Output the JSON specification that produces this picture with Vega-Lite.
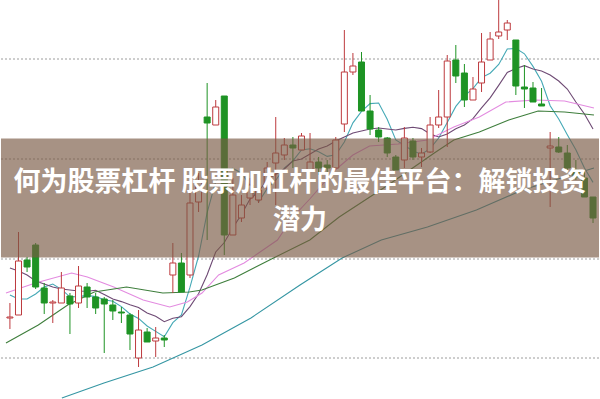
{
"$schema": "https://vega.github.io/schema/vega-lite/v6.json",
"width": 600, "height": 399,
"autosize": {"type": "fit", "contains": "padding"},
"padding": 0,
"background": "white",
"config": {"view": {"stroke": null}},
"datasets": {
"grid": [{"g": 340}, {"g": 240}, {"g": 140}, {"g": 41}],
"k": [
{"i":0,"o":81,"c":82,"h":96,"l":70,"d":"u"},
{"i":1,"o":84,"c":138,"h":167,"l":84,"d":"u"},
{"i":2,"o":139,"c":132,"h":142,"l":127,"d":"d"},
{"i":3,"o":154,"c":112,"h":156,"l":110,"d":"d"},
{"i":4,"o":111,"c":96,"h":116,"l":85,"d":"d"},
{"i":5,"o":96,"c":97,"h":99,"l":76,"d":"u"},
{"i":6,"o":96,"c":111,"h":127,"l":96,"d":"u"},
{"i":7,"o":103,"c":95,"h":106,"l":65,"d":"d"},
{"i":8,"o":96,"c":113,"h":133,"l":91,"d":"u"},
{"i":9,"o":112,"c":102,"h":116,"l":91,"d":"d"},
{"i":10,"o":102,"c":91,"h":106,"l":85,"d":"d"},
{"i":11,"o":100,"c":95,"h":102,"l":46,"d":"d"},
{"i":12,"o":94,"c":88,"h":99,"l":79,"d":"d"},
{"i":13,"o":87,"c":86,"h":92,"l":76,"d":"d"},
{"i":14,"o":84,"c":65,"h":86,"l":49,"d":"d"},
{"i":15,"o":41,"c":69,"h":89,"l":32,"d":"u"},
{"i":16,"o":67,"c":57,"h":71,"l":57,"d":"d"},
{"i":17,"o":58,"c":61,"h":72,"l":42,"d":"u"},
{"i":18,"o":61,"c":59,"h":64,"l":52,"d":"d"},
{"i":19,"o":124,"c":136,"h":156,"l":106,"d":"u"},
{"i":20,"o":136,"c":107,"h":146,"l":107,"d":"d"},
{"i":21,"o":124,"c":196,"h":206,"l":121,"d":"u"},
{"i":22,"o":197,"c":217,"h":226,"l":187,"d":"u"},
{"i":23,"o":282,"c":276,"h":316,"l":159,"d":"d"},
{"i":24,"o":274,"c":292,"h":299,"l":274,"d":"u"},
{"i":25,"o":303,"c":164,"h":303,"l":144,"d":"d"},
{"i":26,"o":164,"c":204,"h":221,"l":164,"d":"u"},
{"i":27,"o":181,"c":194,"h":204,"l":177,"d":"u"},
{"i":28,"o":201,"c":214,"h":221,"l":194,"d":"u"},
{"i":29,"o":199,"c":209,"h":219,"l":196,"d":"u"},
{"i":30,"o":211,"c":231,"h":237,"l":209,"d":"u"},
{"i":31,"o":236,"c":246,"h":282,"l":194,"d":"u"},
{"i":32,"o":244,"c":254,"h":261,"l":239,"d":"u"},
{"i":33,"o":254,"c":251,"h":262,"l":231,"d":"d"},
{"i":34,"o":249,"c":263,"h":266,"l":249,"d":"u"},
{"i":35,"o":229,"c":237,"h":266,"l":227,"d":"u"},
{"i":36,"o":237,"c":231,"h":242,"l":224,"d":"d"},
{"i":37,"o":234,"c":231,"h":239,"l":226,"d":"d"},
{"i":38,"o":231,"c":259,"h":262,"l":231,"d":"u"},
{"i":39,"o":275,"c":327,"h":369,"l":267,"d":"u"},
{"i":40,"o":327,"c":333,"h":346,"l":324,"d":"u"},
{"i":41,"o":337,"c":288,"h":347,"l":288,"d":"d"},
{"i":42,"o":288,"c":270,"h":304,"l":264,"d":"d"},
{"i":43,"o":269,"c":262,"h":272,"l":257,"d":"d"},
{"i":44,"o":261,"c":246,"h":262,"l":242,"d":"d"},
{"i":45,"o":242,"c":229,"h":244,"l":229,"d":"d"},
{"i":46,"o":239,"c":261,"h":272,"l":231,"d":"u"},
{"i":47,"o":258,"c":242,"h":261,"l":239,"d":"d"},
{"i":48,"o":242,"c":246,"h":251,"l":232,"d":"u"},
{"i":49,"o":247,"c":274,"h":282,"l":246,"d":"u"},
{"i":50,"o":274,"c":282,"h":309,"l":271,"d":"u"},
{"i":51,"o":282,"c":338,"h":344,"l":252,"d":"u"},
{"i":52,"o":339,"c":323,"h":354,"l":316,"d":"d"},
{"i":53,"o":326,"c":299,"h":335,"l":292,"d":"d"},
{"i":54,"o":299,"c":310,"h":322,"l":299,"d":"u"},
{"i":55,"o":316,"c":337,"h":366,"l":307,"d":"u"},
{"i":56,"o":339,"c":360,"h":367,"l":339,"d":"u"},
{"i":57,"o":363,"c":367,"h":399,"l":360,"d":"u"},
{"i":58,"o":369,"c":376,"h":379,"l":359,"d":"u"},
{"i":59,"o":359,"c":313,"h":359,"l":304,"d":"d"},
{"i":60,"o":312,"c":310,"h":334,"l":291,"d":"d"},
{"i":61,"o":311,"c":297,"h":317,"l":297,"d":"d"},
{"i":62,"o":295,"c":293,"h":311,"l":293,"d":"d"},
{"i":63,"o":251,"c":253,"h":267,"l":192,"d":"u"},
{"i":64,"o":252,"c":247,"h":262,"l":246,"d":"d"},
{"i":65,"o":246,"c":231,"h":254,"l":229,"d":"d"},
{"i":66,"o":229,"c":222,"h":239,"l":219,"d":"d"},
{"i":67,"o":221,"c":202,"h":227,"l":202,"d":"d"},
{"i":68,"o":202,"c":181,"h":202,"l":176,"d":"d"}
],
"ma": [
{"s":"ma5","i":0,"v":104},{"s":"ma5","i":1,"v":100},{"s":"ma5","i":2,"v":100},{"s":"ma5","i":3,"v":105},{"s":"ma5","i":4,"v":112},{"s":"ma5","i":5,"v":115},{"s":"ma5","i":6,"v":109.6},{"s":"ma5","i":7,"v":102.2},{"s":"ma5","i":8,"v":102.4},{"s":"ma5","i":9,"v":103.6},{"s":"ma5","i":10,"v":102.4},{"s":"ma5","i":11,"v":99.2},{"s":"ma5","i":12,"v":97.8},{"s":"ma5","i":13,"v":92.4},{"s":"ma5","i":14,"v":85},{"s":"ma5","i":15,"v":80.6},{"s":"ma5","i":16,"v":73},{"s":"ma5","i":17,"v":67.6},{"s":"ma5","i":18,"v":62.2},{"s":"ma5","i":19,"v":76.4},{"s":"ma5","i":20,"v":84},{"s":"ma5","i":21,"v":111.8},{"s":"ma5","i":22,"v":143},{"s":"ma5","i":23,"v":186.4},{"s":"ma5","i":24,"v":217.6},{"s":"ma5","i":25,"v":229},{"s":"ma5","i":26,"v":230.6},{"s":"ma5","i":27,"v":226},{"s":"ma5","i":28,"v":213.6},{"s":"ma5","i":29,"v":197},{"s":"ma5","i":30,"v":210.4},{"s":"ma5","i":31,"v":218.8},{"s":"ma5","i":32,"v":230.8},{"s":"ma5","i":33,"v":238.2},{"s":"ma5","i":34,"v":249},{"s":"ma5","i":35,"v":250.2},{"s":"ma5","i":36,"v":247.2},{"s":"ma5","i":37,"v":242.6},{"s":"ma5","i":38,"v":244.2},{"s":"ma5","i":39,"v":257},{"s":"ma5","i":40,"v":276.2},{"s":"ma5","i":41,"v":287.6},{"s":"ma5","i":42,"v":295.4},{"s":"ma5","i":43,"v":296},{"s":"ma5","i":44,"v":279.8},{"s":"ma5","i":45,"v":259},{"s":"ma5","i":46,"v":253.6},{"s":"ma5","i":47,"v":248},{"s":"ma5","i":48,"v":244.8},{"s":"ma5","i":49,"v":250.4},{"s":"ma5","i":50,"v":261},{"s":"ma5","i":51,"v":276.4},{"s":"ma5","i":52,"v":292.6},{"s":"ma5","i":53,"v":303.2},{"s":"ma5","i":54,"v":310.4},{"s":"ma5","i":55,"v":321.4},{"s":"ma5","i":56,"v":325.8},{"s":"ma5","i":57,"v":334.6},{"s":"ma5","i":58,"v":350},{"s":"ma5","i":59,"v":350.6},{"s":"ma5","i":60,"v":345.2},{"s":"ma5","i":61,"v":332.6},{"s":"ma5","i":62,"v":317.8},{"s":"ma5","i":63,"v":293.2},{"s":"ma5","i":64,"v":280},{"s":"ma5","i":65,"v":264.2},{"s":"ma5","i":66,"v":249.2},{"s":"ma5","i":67,"v":231},{"s":"ma5","i":68,"v":216.6},
{"s":"ma10","i":0,"v":131},{"s":"ma10","i":1,"v":128},{"s":"ma10","i":2,"v":124},{"s":"ma10","i":3,"v":118},{"s":"ma10","i":4,"v":115},{"s":"ma10","i":5,"v":112},{"s":"ma10","i":6,"v":110},{"s":"ma10","i":7,"v":109},{"s":"ma10","i":8,"v":108},{"s":"ma10","i":9,"v":107.8},{"s":"ma10","i":10,"v":108.7},{"s":"ma10","i":11,"v":104.4},{"s":"ma10","i":12,"v":100},{"s":"ma10","i":13,"v":97.4},{"s":"ma10","i":14,"v":94.3},{"s":"ma10","i":15,"v":91.5},{"s":"ma10","i":16,"v":86.1},{"s":"ma10","i":17,"v":82.7},{"s":"ma10","i":18,"v":77.3},{"s":"ma10","i":19,"v":80.7},{"s":"ma10","i":20,"v":82.3},{"s":"ma10","i":21,"v":92.4},{"s":"ma10","i":22,"v":105.3},{"s":"ma10","i":23,"v":124.3},{"s":"ma10","i":24,"v":147},{"s":"ma10","i":25,"v":156.5},{"s":"ma10","i":26,"v":171.2},{"s":"ma10","i":27,"v":184.5},{"s":"ma10","i":28,"v":200},{"s":"ma10","i":29,"v":207.3},{"s":"ma10","i":30,"v":219.7},{"s":"ma10","i":31,"v":224.7},{"s":"ma10","i":32,"v":230},{"s":"ma10","i":33,"v":238},{"s":"ma10","i":34,"v":240},{"s":"ma10","i":35,"v":245},{"s":"ma10","i":36,"v":250},{"s":"ma10","i":37,"v":253},{"s":"ma10","i":38,"v":258},{"s":"ma10","i":39,"v":262},{"s":"ma10","i":40,"v":266},{"s":"ma10","i":41,"v":268},{"s":"ma10","i":42,"v":270},{"s":"ma10","i":43,"v":271},{"s":"ma10","i":44,"v":270},{"s":"ma10","i":45,"v":269},{"s":"ma10","i":46,"v":270.6},{"s":"ma10","i":47,"v":271.7},{"s":"ma10","i":48,"v":270.4},{"s":"ma10","i":49,"v":265.1},{"s":"ma10","i":50,"v":262},{"s":"ma10","i":51,"v":265},{"s":"ma10","i":52,"v":270.3},{"s":"ma10","i":53,"v":274},{"s":"ma10","i":54,"v":280.4},{"s":"ma10","i":55,"v":291.2},{"s":"ma10","i":56,"v":301.1},{"s":"ma10","i":57,"v":313.6},{"s":"ma10","i":58,"v":326.6},{"s":"ma10","i":59,"v":330.5},{"s":"ma10","i":60,"v":333.3},{"s":"ma10","i":61,"v":330},{"s":"ma10","i":62,"v":328},{"s":"ma10","i":63,"v":324},{"s":"ma10","i":64,"v":318},{"s":"ma10","i":65,"v":310},{"s":"ma10","i":66,"v":297},{"s":"ma10","i":67,"v":285},{"s":"ma10","i":68,"v":270},
{"s":"ma20","i":-0.46,"v":106},{"s":"ma20","i":2.97,"v":116},{"s":"ma20","i":7.2,"v":126},{"s":"ma20","i":9.03,"v":122},{"s":"ma20","i":12.11,"v":112},{"s":"ma20","i":15.54,"v":99},{"s":"ma20","i":18.63,"v":92},{"s":"ma20","i":20.69,"v":97},{"s":"ma20","i":22.4,"v":106},{"s":"ma20","i":24.34,"v":124},{"s":"ma20","i":27.31,"v":136},{"s":"ma20","i":31.2,"v":159},{"s":"ma20","i":32.91,"v":181},{"s":"ma20","i":34.97,"v":200},{"s":"ma20","i":37.94,"v":229},{"s":"ma20","i":40,"v":244},{"s":"ma20","i":41.94,"v":253},{"s":"ma20","i":45.26,"v":255},{"s":"ma20","i":48.69,"v":259},{"s":"ma20","i":51.77,"v":272},{"s":"ma20","i":54.74,"v":282},{"s":"ma20","i":57.83,"v":297},{"s":"ma20","i":61.26,"v":299},{"s":"ma20","i":64.69,"v":298},{"s":"ma20","i":68.11,"v":291},
{"s":"ma60","i":-0.46,"v":56},{"s":"ma60","i":3.31,"v":74},{"s":"ma60","i":6.74,"v":94},{"s":"ma60","i":9.83,"v":107},{"s":"ma60","i":13.6,"v":112},{"s":"ma60","i":17.83,"v":106},{"s":"ma60","i":20.91,"v":107},{"s":"ma60","i":22.4,"v":109},{"s":"ma60","i":26.17,"v":121},{"s":"ma60","i":30.74,"v":141},{"s":"ma60","i":34.97,"v":159},{"s":"ma60","i":38.4,"v":182},{"s":"ma60","i":44.11,"v":214},{"s":"ma60","i":49.49,"v":246},{"s":"ma60","i":51.77,"v":259},{"s":"ma60","i":54.74,"v":267},{"s":"ma60","i":58.17,"v":279},{"s":"ma60","i":61.6,"v":288},{"s":"ma60","i":64.69,"v":287},{"s":"ma60","i":68.11,"v":284},
{"s":"ma120","i":6.06,"v":1},{"s":"ma120","i":10.97,"v":16},{"s":"ma120","i":16.69,"v":32},{"s":"ma120","i":22.4,"v":54},{"s":"ma120","i":28.11,"v":81},{"s":"ma120","i":33.83,"v":114},{"s":"ma120","i":38.74,"v":141},{"s":"ma120","i":43.31,"v":159},{"s":"ma120","i":48.69,"v":172},{"s":"ma120","i":54.4,"v":189},{"s":"ma120","i":59.77,"v":209},{"s":"ma120","i":63.54,"v":219},{"s":"ma120","i":68.11,"v":231}
],
"band": [{"top": 260.5, "bottom": 141.5}],
"title": [
{"i": 33.83, "v": 216, "t": "何为股票杠杆 股票加杠杆的最佳平台：解锁投资"},
{"i": 33.83, "v": 178, "t": "潜力"}
]
},
"layer": [
{
"data": {"name": "grid"},
"mark": {"type": "rule", "color": "#9c9c9c", "strokeDash": [2, 2], "strokeWidth": 1},
"encoding": {"y": {"field": "g", "type": "quantitative", "scale": {"domain": [0, 399], "nice": false, "zero": false}, "axis": null}}
},
{
"data": {"name": "ma"},
"mark": {"type": "line", "strokeWidth": 1.1, "clip": true},
"encoding": {
"x": {"field": "i", "type": "quantitative", "scale": {"domain": [-0.457, 68.114], "nice": false, "zero": false}, "axis": null},
"y": {"field": "v", "type": "quantitative", "axis": null},
"color": {"field": "s", "type": "nominal", "legend": null, "scale": {"domain": ["ma5", "ma10", "ma20", "ma60", "ma120"], "range": ["#45a9b6", "#6e4a74", "#e38be0", "#3e7e3c", "#3596a3"]}}
}
},
{
"data": {"name": "k"},
"mark": {"type": "rule", "strokeWidth": 1, "clip": true},
"encoding": {
"x": {"field": "i", "type": "quantitative", "axis": null},
"y": {"field": "h", "type": "quantitative", "axis": null},
"y2": {"field": "l"},
"stroke": {"field": "d", "type": "nominal", "legend": null, "scale": {"domain": ["u", "d"], "range": ["#bd3a3e", "#1e9324"]}}
}
},
{
"data": {"name": "k"},
"mark": {"type": "bar", "size": 6, "strokeWidth": 1, "clip": true},
"encoding": {
"x": {"field": "i", "type": "quantitative", "axis": null},
"y": {"field": "o", "type": "quantitative", "axis": null},
"y2": {"field": "c"},
"stroke": {"field": "d", "type": "nominal", "legend": null},
"fill": {"field": "d", "type": "nominal", "legend": null, "scale": {"domain": ["u", "d"], "range": ["#ffffff", "#1e9324"]}}
}
},
{
"data": {"name": "band"},
"mark": {"type": "rect", "color": "#7a5a44", "opacity": 0.66},
"encoding": {
"y": {"field": "top", "type": "quantitative", "axis": null},
"y2": {"field": "bottom"}
}
},
{
"data": {"name": "title"},
"mark": {"type": "text", "font": "Noto Sans CJK SC", "fontWeight": "bold", "fontSize": 27, "color": "#ffffff", "align": "center", "baseline": "middle"},
"encoding": {
"x": {"field": "i", "type": "quantitative", "axis": null},
"y": {"field": "v", "type": "quantitative", "axis": null},
"text": {"field": "t"}
}
}
]
}
